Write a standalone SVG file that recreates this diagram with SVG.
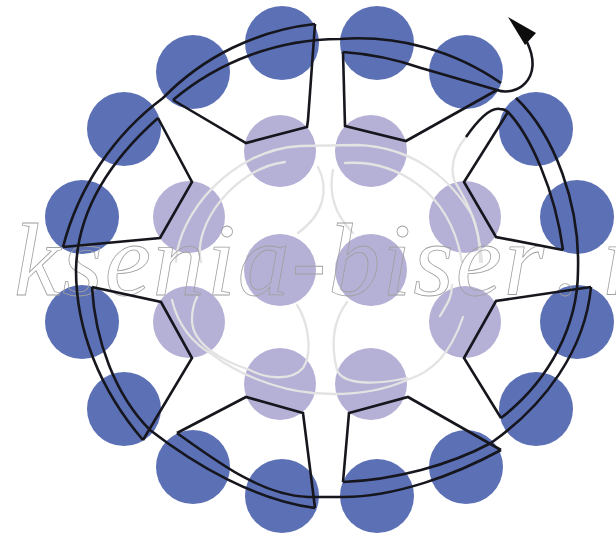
<svg xmlns="http://www.w3.org/2000/svg" width="616" height="541" viewBox="0 0 616 541">
<style>
.d{fill:#5c70b5}
.l{fill:#b5b0d5}
.g{fill:none;stroke:#e3e3e3;stroke-width:2.3;stroke-linecap:round}
.t{fill:none;stroke:#14161f;stroke-width:2.6;stroke-linejoin:miter}
.w{font-family:"Liberation Serif",serif;font-style:italic;font-size:104px;letter-spacing:2px;fill:none;stroke:#a0a0a0;stroke-width:.8}
</style>
<defs><filter id="soft" x="-5%" y="-5%" width="110%" height="110%"><feGaussianBlur stdDeviation=".55"/></filter></defs>
<rect width="616" height="541" fill="#fff"/>
<g filter="url(#soft)">
<g id="outer-beads">
<circle id="o1" class="d" cx="282" cy="43" r="37"/><circle id="o2" class="d" cx="377" cy="43" r="37"/>
<circle id="o3" class="d" cx="466" cy="72" r="37"/><circle id="o4" class="d" cx="536" cy="129" r="37"/>
<circle id="o5" class="d" cx="577" cy="217" r="37"/><circle id="o6" class="d" cx="577" cy="322" r="37"/>
<circle id="o7" class="d" cx="536" cy="409" r="37"/><circle id="o8" class="d" cx="466" cy="467" r="37"/>
<circle id="o9" class="d" cx="377" cy="496" r="37"/><circle id="o10" class="d" cx="282" cy="496" r="37"/>
<circle id="o11" class="d" cx="193" cy="467" r="37"/><circle id="o12" class="d" cx="124" cy="409" r="37"/>
<circle id="o13" class="d" cx="82" cy="322" r="37"/><circle id="o14" class="d" cx="82" cy="217" r="37"/>
<circle id="o15" class="d" cx="124" cy="129" r="37"/><circle id="o16" class="d" cx="193" cy="72" r="37"/>
</g>
<g id="inner-beads">
<circle id="i1" class="l" cx="280" cy="151" r="36"/><circle id="i2" class="l" cx="371" cy="151" r="36"/>
<circle id="i3" class="l" cx="465" cy="217" r="36"/><circle id="i4" class="l" cx="465" cy="322" r="36"/>
<circle id="i5" class="l" cx="371" cy="384" r="36"/><circle id="i6" class="l" cx="280" cy="384" r="36"/>
<circle id="i7" class="l" cx="189" cy="322" r="36"/><circle id="i8" class="l" cx="189" cy="217" r="36"/>
<circle id="i9" class="l" cx="280" cy="270" r="36"/><circle id="i10" class="l" cx="371" cy="270" r="36"/>
</g>
<g id="pale-thread">
<path class="g" d="M176,262C178,215 230,150 300,146L358,145C405,147 445,170 472,215C478,228 480,245 480,262"/>
<path class="g" d="M201,262C192,225 235,168 285,162"/>
<path class="g" d="M345,163C395,160 450,190 462,262"/>
<path class="g" d="M318,167C330,190 323,215 298,233"/>
<path class="g" d="M333,170C328,195 335,215 353,233"/>
<path class="g" d="M297,305C310,325 312,355 303,368C293,380 268,380 250,370C225,362 192,345 192,320C192,310 194,303 197,297"/>
<path class="g" d="M172,300C178,325 192,343 213,355C235,372 275,390 313,393L333,394C360,394 385,390 407,380C432,372 450,355 463,317"/>
<path class="g" d="M347,302C330,325 332,350 337,370C343,385 375,385 407,378"/>
<path class="g" d="M466,137C455,150 450,165 454,180C462,195 478,215 482,262"/>
<path class="g" d="M440,316C450,300 452,295 452,285"/>
</g>
<text id="watermark" class="w" x="14" y="295">ksenia-biser<tspan dx="20">.</tspan><tspan dx="20">ru</tspan></text>
<g id="connectors">
<path class="t" d="M315,24L308,120L307,127L246,143L173,100"/>
<path class="t" d="M63,247L160,238L192,182L158,118"/>
<path class="t" d="M343,52L345,126L406,141L497,90"/>
<path class="t" d="M508,112L464,182L496,237L563,250"/>
<path class="t" d="M591,287L496,301L464,358L501,418"/>
<path class="t" d="M501,450L408,397L349,413L343,482"/>
<path class="t" d="M315,508L303,413L246,397L177,433"/>
<path class="t" d="M143,440L192,358L161,302L92,287"/>
<path class="t" d="M63,247A270,270 0 0 1 163,98A250,250 0 0 1 315,24"/>
<path class="t" d="M173,100A260,260 0 0 1 340,39A250,250 0 0 1 501,83"/>
<path class="t" d="M343,52A300,300 0 0 1 421,68L497,90C515,97 545,80 527,42"/>
<path class="t" d="M466,137C478,120 490,107 500,109C503,109 506,110 508,112C530,135 555,190 563,250"/>
<path class="t" d="M516,98C555,135 580,205 578,270C578,325 550,380 501,418"/>
<path class="t" d="M591,287C585,350 545,405 491,443C450,465 395,480 343,482"/>
<path class="t" d="M501,450C455,475 395,497 343,497H308C260,495 215,460 177,433"/>
<path class="t" d="M315,508C255,500 195,465 150,430C115,395 95,340 92,287"/>
<path class="t" d="M143,440C100,390 76,330 76,270C77,215 105,165 158,118"/>
<path d="M508,17L536,33L525,45Z" fill="#111"/>
</g>
</g>
</svg>
